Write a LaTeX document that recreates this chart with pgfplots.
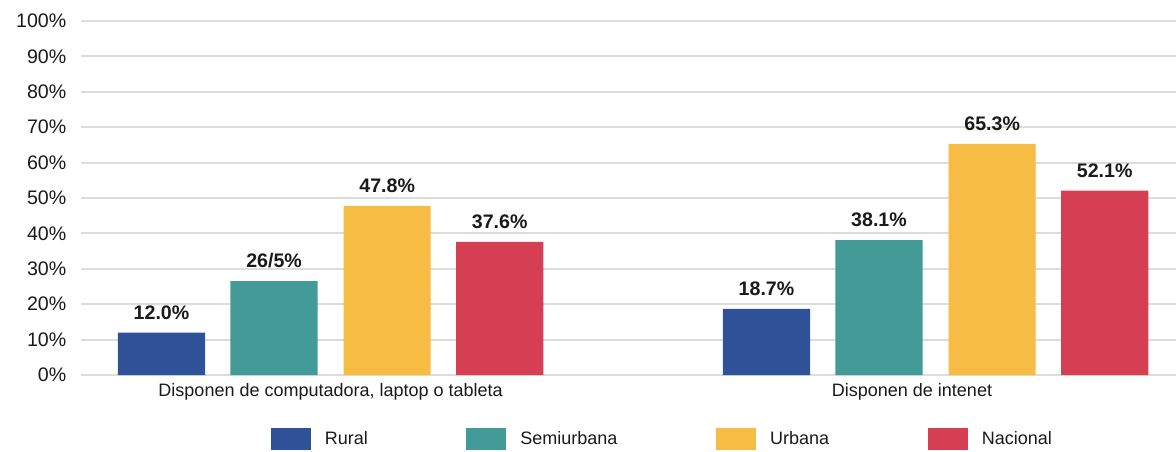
\documentclass[border=0pt]{standalone}
\usepackage{fontspec}
\setmainfont{Liberation Sans}
\usepackage{pgfplots}
\pgfplotsset{compat=1.18}
\definecolor{rural}{HTML}{2F5197}
\definecolor{semi}{HTML}{429B97}
\definecolor{urb}{HTML}{F6BC43}
\definecolor{nac}{HTML}{D63F53}
\definecolor{gridc}{HTML}{DCDCDC}
\definecolor{txt}{HTML}{1A1A1A}
\newcommand{\lf}{\fontsize{13.5}{16}\selectfont}
\newcommand{\tf}{\fontsize{14.7}{17}\selectfont}
\begin{document}
\begin{tikzpicture}
\useasboundingbox (-60.75pt,-57pt) rectangle (821.25pt,281.25pt);
\begin{axis}[
  at={(0pt,0pt)}, anchor=south west,
  scale only axis, width=821.25pt, height=265.5pt,
  xmin=-0.4126, xmax=1.3974, ymin=0, ymax=100,
  axis line style={draw=none},
  ytick={0,10,...,100},
  /pgf/number format/assume math mode=true,
  yticklabel={\pgfmathprintnumber{\tick}\%},
  ymajorgrids, grid style={gridc, line width=1.5pt},
  major tick length=0pt,
  xtick={0,0.961},
  xticklabels={{Disponen de computadora, laptop o tableta},{Disponen de intenet}},
  ticklabel style={font=\lf, text=txt},
  yticklabel style={font=\tf, xshift=-7.5pt},
  xticklabel style={yshift=-3pt},
  legend columns=4,
  legend style={draw=none, fill=none, font=\lf, text=txt,
    at={(axis description cs:0.53,0)}, anchor=center, yshift=-48pt,
    nodes={inner sep=0pt},
    /tikz/every odd column/.append style={column sep=10.5pt},
    /tikz/every even column/.append style={column sep=74pt}},
  legend image code/.code={\fill[#1] (0pt,-8.25pt) rectangle (30pt,8.25pt);},
  nodes near coords,
  point meta=explicit symbolic,
  every node near coord/.append style={font=\bfseries\tf, text=txt, anchor=south, inner sep=0pt, yshift=9.5pt},
]
\addplot[ybar, bar width=0.144, fill=rural, draw=none] coordinates {(-0.2795,12.0) [12.0\%] (0.7205,18.7) [18.7\%]};
\addlegendentry{Rural}
\addplot[ybar, bar width=0.144, fill=semi, draw=none] coordinates {(-0.0935,26.5) [26/5\%] (0.9065,38.1) [38.1\%]};
\addlegendentry{Semiurbana}
\addplot[ybar, bar width=0.144, fill=urb, draw=none] coordinates {(0.0935,47.8) [47.8\%] (1.0935,65.3) [65.3\%]};
\addlegendentry{Urbana}
\addplot[ybar, bar width=0.144, fill=nac, draw=none] coordinates {(0.2795,37.6) [37.6\%] (1.2795,52.1) [52.1\%]};
\addlegendentry{Nacional}
\end{axis}
\end{tikzpicture}
\end{document}
